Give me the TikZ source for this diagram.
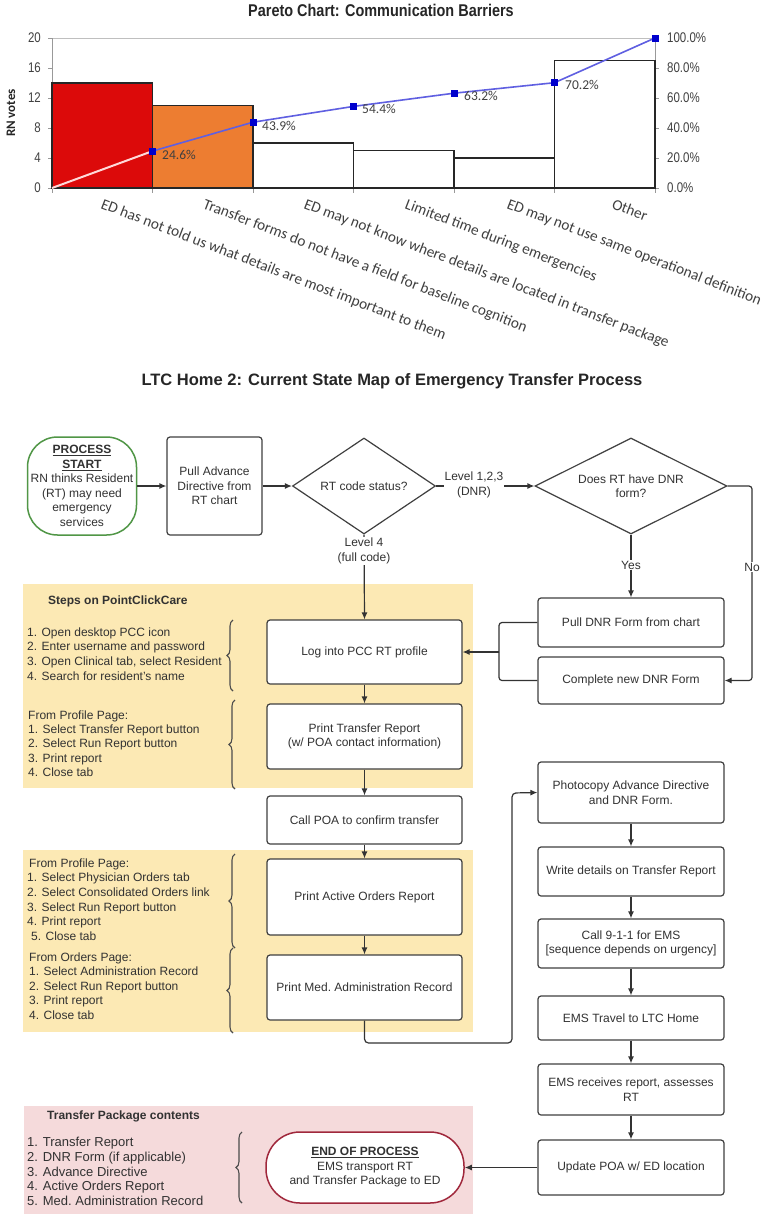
\documentclass[tikz,border=0pt]{standalone}
\usepackage{fontspec}
\setmainfont{Liberation Sans}
\newfontfamily\narrowfont[FakeStretch=0.82]{Liberation Sans}
\newfontfamily\titlefont[FakeStretch=0.85]{Liberation Sans}
\newfontfamily\calfont{Carlito}
\usetikzlibrary{arrows.meta,shapes.geometric,decorations.pathreplacing}
\definecolor{ylw}{RGB}{252,233,180}
\definecolor{pnk}{RGB}{245,218,219}
\definecolor{grn}{RGB}{80,150,70}
\definecolor{rdb}{RGB}{160,40,60}
\definecolor{barred}{RGB}{220,10,10}
\definecolor{barorg}{RGB}{237,125,49}
\definecolor{bline}{RGB}{95,95,225}
\definecolor{bmark}{RGB}{0,0,205}
\definecolor{txt}{RGB}{50,50,50}
\begin{document}
\begin{tikzpicture}[x=1pt,y=-1pt,
  fs/.style={font=\fontsize{12}{14.5}\selectfont},
  box/.style={draw=black!75, line width=1.2pt, rounded corners=3pt, fill=white, align=center, inner sep=2pt, fs, text=txt},
  dia/.style={draw=black!75, line width=1.2pt, diamond, aspect=1.5, inner sep=0pt, fill=white, align=center, fs, text=txt},
  arr/.style={-{Latex[length=7pt,width=6pt]}, line width=1.2pt, draw=black!80},
  ln/.style={line width=1.2pt, draw=black!80},
  lbl/.style={fill=white, inner sep=1pt, align=center, fs, text=txt},
  lst/.style={anchor=west, align=left, inner sep=0pt, text=txt},
  brc/.style={decorate, decoration={brace, amplitude=6pt}, line width=1.1pt, draw=black!70},
  ytick/.style={font=\narrowfont\fontsize{14}{14}\selectfont, text=black!75, inner sep=0pt},
  cat/.style={font=\calfont\fontsize{15.3}{15.3}\selectfont, text=black!75, rotate=-21, anchor=base west, inner sep=0pt},
  dlab/.style={font=\calfont\fontsize{13.5}{13.5}\selectfont, text=black!75, anchor=west, inner sep=0pt},
  mk/.style={fill=bmark, draw=none, minimum size=7pt, inner sep=0pt, rectangle}
]
\useasboundingbox (0,0) rectangle (771,1227);
\fill[white] (0,0) rectangle (771,1227);

% ================= PARETO CHART =================
\node[font=\titlefont\bfseries\fontsize{17}{17}\selectfont, text=black!85] (ptitle) at (381,10) {Pareto Chart: Communication Barriers};
\node[font=\calfont\bfseries\fontsize{13}{13}\selectfont, rotate=90, text=black!85] (ylab) at (11,113) {RN votes};

% plot frame
\draw[black!25, line width=0.8pt] (52,38) -- (655,38);
\draw[black!40, line width=1pt] (52,38) -- (52,188) -- (655,188) -- (655,38);
\foreach \v/\yy in {0/188,4/158,8/128,12/98,16/68,20/38}{
  \draw[black!40, line width=0.8pt] (48,\yy) -- (52,\yy);
  \node[ytick, anchor=east] at (41,\yy) {\v};
}
\foreach \p/\yy in {0.0/188,20.0/158,40.0/128,60.0/98,80.0/68,100.0/38}{
  \draw[black!40, line width=0.8pt] (655,\yy) -- (659,\yy);
  \node[ytick, anchor=west] at (667,\yy) {\p\%};
}
\foreach \xx in {52,152.5,253,353.5,454,554.5,655}{
  \draw[black!40, line width=0.8pt] (\xx,188) -- (\xx,193);
}
% bars
\draw[fill=barred, draw=black!85, line width=1.1pt] (52,188) rectangle (152.5,83);
\draw[fill=barorg, draw=black!85, line width=1.1pt] (152.5,188) rectangle (253,105.5);
\draw[fill=white, draw=black!85, line width=1.1pt] (253,188) rectangle (353.5,143);
\draw[fill=white, draw=black!85, line width=1.1pt] (353.5,188) rectangle (454,150.5);
\draw[fill=white, draw=black!85, line width=1.1pt] (454,188) rectangle (554.5,158);
\draw[fill=white, draw=black!85, line width=1.1pt] (554.5,188) rectangle (655,60.5);
% cumulative line
\draw[white!85!red, line width=2pt] (52,188) -- (152.5,151.1);
\draw[bline, line width=1.6pt] (152.5,151.1) -- (253,122.2) -- (353.5,106.4) -- (454,93.2) -- (554.5,82.7) -- (655,38);
\foreach \xx/\yy in {152.5/151.1,253/122.2,353.5/106.4,454/93.2,554.5/82.7,655/38}{
  \node[mk] at (\xx,\yy) {};
}
\node[dlab] at (162,155) {24.6\%};
\node[dlab] at (262,126) {43.9\%};
\node[dlab] at (362,109) {54.4\%};
\node[dlab] at (464,96) {63.2\%};
\node[dlab] at (565,85) {70.2\%};
% category labels
\node[cat] at (100,208) {ED has not told us what details are most important to them};
\node[cat] at (202,208) {Transfer forms do not have a field for baseline cognition};
\node[cat] at (303,208) {ED may not know where details are located in transfer package};
\node[cat] at (404,208) {Limited time during emergencies};
\node[cat] at (506,208) {ED may not use same operational definition};
\node[cat] at (611,208) {Other};

% ================= FLOW MAP =================
\node[font=\bfseries\fontsize{16.5}{17}\selectfont, text=black!85] (ftitle) at (392,381) {LTC Home 2: Current State Map of Emergency Transfer Process};

% background regions
\fill[ylw] (23,584) rectangle (473,788);
\fill[ylw] (23,850) rectangle (473,1032);
\fill[pnk] (24,1106) rectangle (473,1214);

% nodes
\node[box, draw=grn, rounded corners=30pt, minimum width=109pt, minimum height=98pt, line width=1.5pt] (start) at (82,486)
  {\underline{\textbf{PROCESS}}\\\underline{\textbf{START}}\\RN thinks Resident\\(RT) may need\\emergency\\services};
\node[box, minimum width=95pt, minimum height=98pt] (pull) at (214.5,486) {Pull Advance\\Directive from\\RT chart};
\node[dia, minimum width=143pt, minimum height=96pt] (codest) at (364,486) {RT code status?};
\node[dia, minimum width=192pt, minimum height=96pt] (dnrq) at (631,486) {Does RT have DNR\\form?};
\node[box, minimum width=186pt, minimum height=49pt] (pulldnr) at (631,622.5) {Pull DNR Form from chart};
\node[box, minimum width=186pt, minimum height=47pt] (newdnr) at (631,680.5) {Complete new DNR Form};
\node[box, minimum width=195pt, minimum height=64pt] (login) at (364.5,652) {Log into PCC RT profile};
\node[box, minimum width=195pt, minimum height=65pt] (printtr) at (364.5,736.5) {Print Transfer Report\\(w/ POA contact information)};
\node[box, minimum width=195pt, minimum height=48pt] (callpoa) at (364.5,820) {Call POA to confirm transfer};
\node[box, minimum width=195pt, minimum height=76pt] (printao) at (364.5,897) {Print Active Orders Report};
\node[box, minimum width=195pt, minimum height=65pt] (printmar) at (364.5,987.5) {Print Med.\ Administration Record};
\node[box, minimum width=186pt, minimum height=61pt] (photo) at (631,792.5) {Photocopy Advance Directive\\and DNR Form.};
\node[box, minimum width=186pt, minimum height=49pt] (write) at (631,871.5) {Write details on Transfer Report};
\node[box, minimum width=186pt, minimum height=49pt] (call911) at (631,943.5) {Call 9-1-1 for EMS\\{[}sequence depends on urgency{]}};
\node[box, minimum width=186pt, minimum height=44pt] (travel) at (631,1018) {EMS Travel to LTC Home};
\node[box, minimum width=186pt, minimum height=51pt] (receives) at (631,1089.5) {EMS receives report, assesses\\RT};
\node[box, minimum width=186pt, minimum height=55pt] (update) at (631,1167.5) {Update POA w/ ED location};
\node[box, draw=rdb, rounded corners=34pt, minimum width=198pt, minimum height=71pt, line width=1.5pt] (endn) at (365,1167.5)
  {\underline{\textbf{END OF PROCESS}}\\EMS transport RT\\and Transfer Package to ED};

% connectors
\draw[arr] (start.east) -- (pull.west);
\draw[arr] (pull.east) -- (codest.west);
\draw[arr] (codest.east) -- (dnrq.west);
\node[lbl] (l123) at (474,485) {Level 1,2,3\\(DNR)};
\draw[arr] (codest.south) -- (login.north);
\node[lbl] (l4) at (364,551) {Level 4\\(full code)};
\draw[arr] (dnrq.south) -- (pulldnr.north);
\node[lbl] (yes) at (631,565) {Yes};
\coordinate (nocorner) at (752,486);
\draw[arr, rounded corners=3pt] (dnrq.east) -- (nocorner) |- (newdnr.east);
\node[lbl] (no) at (752,567) {No};
\coordinate (jn) at (499,652);
\draw[ln, rounded corners=3pt] (pulldnr.west) -| (jn);
\draw[ln, rounded corners=3pt] (newdnr.west) -| (jn);
\draw[arr] (jn) -- (login.east);
\draw[arr] (login.south) -- (printtr.north);
\draw[arr] (printtr.south) -- (callpoa.north);
\draw[arr] (callpoa.south) -- (printao.north);
\draw[arr] (printao.south) -- (printmar.north);
\coordinate (lp1) at (364.5,1043);
\coordinate (lp2) at (512,793);
\draw[arr, rounded corners=4pt] (printmar.south) -- (lp1) -| (lp2) -- (photo.west);
\draw[arr] (photo.south) -- (write.north);
\draw[arr] (write.south) -- (call911.north);
\draw[arr] (call911.south) -- (travel.north);
\draw[arr] (travel.south) -- (receives.north);
\draw[arr] (receives.south) -- (update.north);
\draw[arr] (update.west) -- (endn.east);

% side texts
\node[anchor=base west, inner sep=0pt, font=\bfseries\fontsize{12}{14}\selectfont, text=txt] (steps) at (48,604) {Steps on PointClickCare};
\node[lst, font=\fontsize{12}{14.7}\selectfont] (list1) at (27,654)
  {1. Open desktop PCC icon\\2. Enter username and password\\3. Open Clinical tab, select Resident\\4. Search for resident's name};
\node[lst, font=\fontsize{12}{14.3}\selectfont] (list2) at (28,743.5)
  {From Profile Page:\\1. Select Transfer Report button\\2. Select Run Report button\\3. Print report\\4. Close tab};
\node[lst, font=\fontsize{12}{14.6}\selectfont] (list3) at (27,899.5)
  {\,From Profile Page:\\1. Select Physician Orders tab\\2. Select Consolidated Orders link\\3. Select Run Report button\\4. Print report\\\,\,5. Close tab};
\node[lst, font=\fontsize{12}{14.5}\selectfont] (list4) at (29,986)
  {From Orders Page:\\1. Select Administration Record\\2. Select Run Report button\\3. Print report\\4. Close tab};
\node[anchor=base west, inner sep=0pt, font=\bfseries\fontsize{12}{14}\selectfont, text=txt] (tpc) at (47,1119) {Transfer Package contents};
\node[lst, font=\fontsize{13}{14.8}\selectfont] (list5) at (27,1171.5)
  {1. Transfer Report\\2. DNR Form (if applicable)\\3. Advance Directive\\4. Active Orders Report\\5. Med.\ Administration Record};

% braces
\draw[brc] (233,691) -- (233,620);
\draw[brc] (235,789) -- (235,700);
\draw[brc] (235,948) -- (235,854);
\draw[brc] (233,1033) -- (233,948);
\draw[brc] (242,1203) -- (242,1132);
\end{tikzpicture}
\end{document}
